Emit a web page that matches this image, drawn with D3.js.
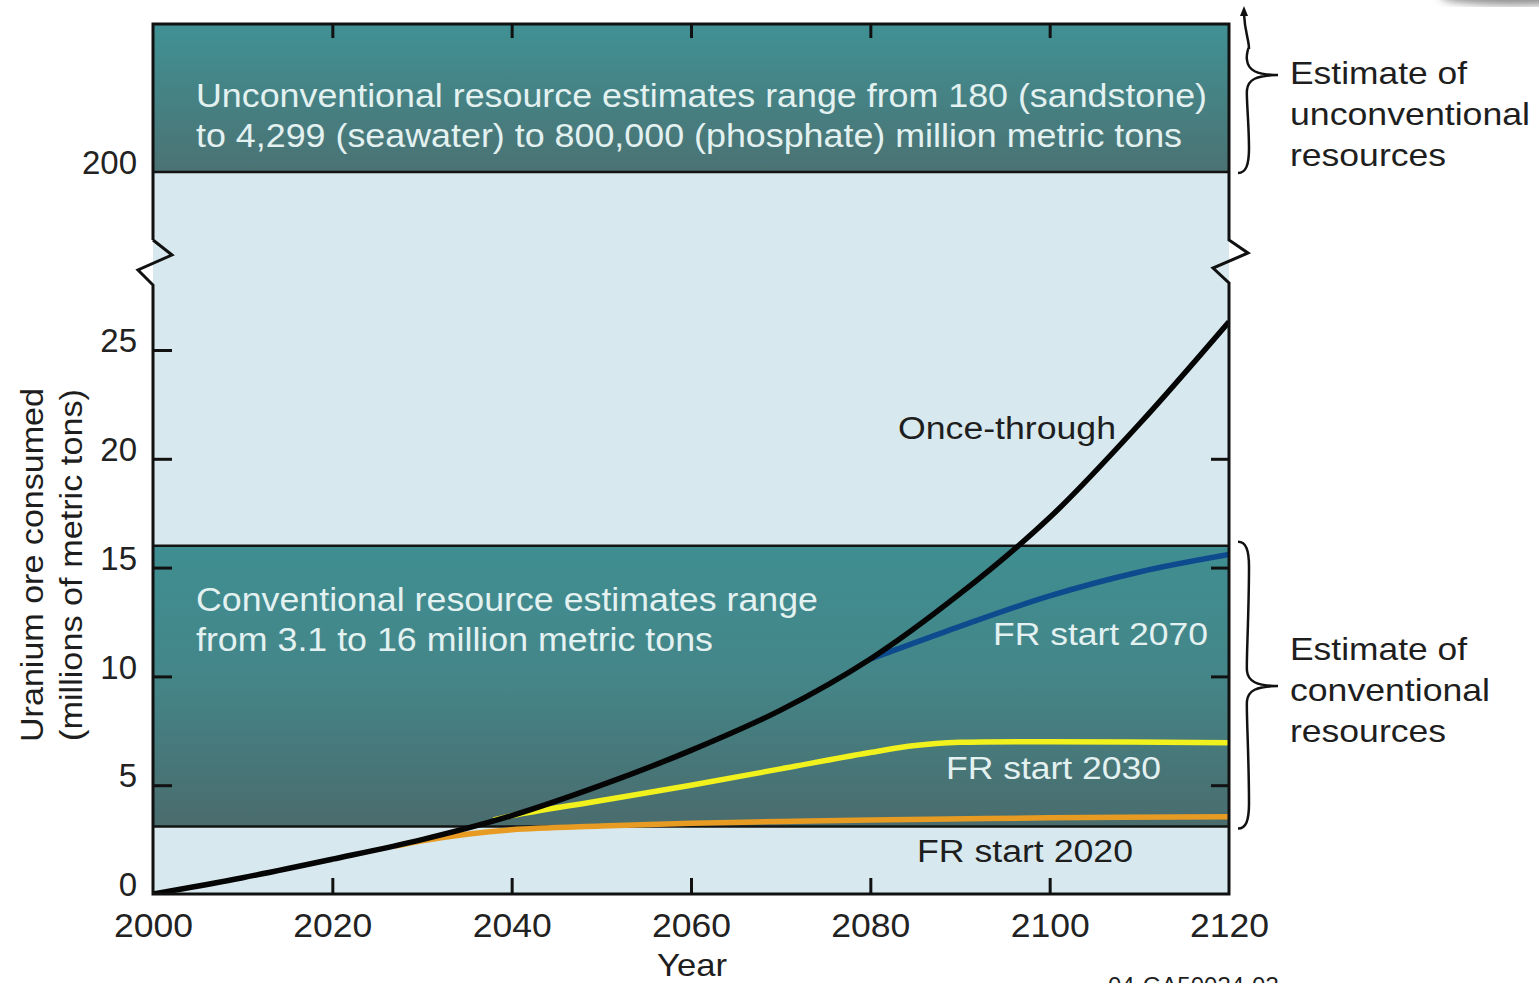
<!DOCTYPE html>
<html>
<head>
<meta charset="utf-8">
<script src="https://cdn.jsdelivr.net/npm/d3@7"></script>
<style>
  body { margin: 0; background: #fff; }
  svg { display: block; font-family: "Liberation Sans", Arial, sans-serif; }
  .tick line { stroke: #111; stroke-width: 3; }
</style>
</head>
<body>
<svg id="chart" width="1539" height="983"></svg>
<script>
// x axis / y axis tick values
var xTicks = [2000, 2020, 2040, 2060, 2080, 2100, 2120];
var yTicks = [0, 5, 10, 15, 20, 25];
var upperTicks = [200];

// resource bands (millions of metric tons)
var conventionalRange = [3.1, 16];
var unconventionalRange = [200, 240];

// consumption curves
var onceYears = [2000, 2010, 2020, 2030, 2040, 2050, 2060, 2070, 2080, 2090, 2100, 2110, 2120];
var onceThrough = [0, 0.75, 1.6, 2.5, 3.6, 5.0, 6.6, 8.45, 10.8, 13.8, 17.3, 21.6, 26.3];

var fr2020Years = [2027, 2030, 2035, 2040, 2050, 2060, 2070, 2080, 2100, 2120];
var fr2020 = [2.2, 2.45, 2.75, 2.95, 3.12, 3.25, 3.33, 3.4, 3.5, 3.55];

var fr2030Years = [2038, 2040, 2050, 2060, 2070, 2080, 2085, 2090, 2100, 2120];
var fr2030 = [3.4, 3.6, 4.3, 5.0, 5.75, 6.5, 6.82, 6.97, 7.0, 6.95];

var fr2070Years = [2080, 2083, 2090, 2100, 2110, 2120];
var fr2070 = [10.8, 11.25, 12.3, 13.7, 14.8, 15.6];

var svg = d3.select("#chart");
var margin = { top: 24, right: 310, bottom: 89, left: 153 };
var width = +svg.attr("width") - margin.left - margin.right;
var height = +svg.attr("height") - margin.top - margin.bottom;

var g = svg.append("g")
    .attr("transform", "translate(" + margin.left + "," + margin.top + ")");

var x = d3.scaleLinear().domain([2000, 2120]).range([0, width]);
var yLow = d3.scaleLinear().domain([0, 25]).range([height, 326]);
var yHigh = d3.scaleLinear().domain(unconventionalRange).range([148, 0]);

var defs = svg.append("defs");
var topGrad = defs.append("linearGradient").attr("id", "topGrad")
    .attr("x1", 0).attr("y1", 0).attr("x2", 0).attr("y2", 1);
topGrad.append("stop").attr("offset", "0%").attr("stop-color", "#409194");
topGrad.append("stop").attr("offset", "100%").attr("stop-color", "#4b7273");
var convGrad = defs.append("linearGradient").attr("id", "convGrad")
    .attr("x1", 0).attr("y1", 0).attr("x2", 0).attr("y2", 1);
convGrad.append("stop").attr("offset", "0%").attr("stop-color", "#3f8e91");
convGrad.append("stop").attr("offset", "45%").attr("stop-color", "#448689");
convGrad.append("stop").attr("offset", "100%").attr("stop-color", "#4a6c6d");
defs.append("clipPath").attr("id", "plotClip")
    .append("rect").attr("x", 0).attr("y", 0).attr("width", width).attr("height", height);
defs.append("filter").attr("id", "blur")
    .append("feGaussianBlur").attr("stdDeviation", 4);

// smudge top right
svg.append("ellipse").attr("cx", 1515).attr("cy", -4).attr("rx", 75).attr("ry", 9)
    .attr("fill", "#8c8c8c").attr("filter", "url(#blur)");

// backgrounds
g.append("rect").attr("x", 0).attr("width", width)
    .attr("y", yHigh(200)).attr("height", height - yHigh(200))
    .attr("fill", "#d7e9ee");
g.append("rect").attr("x", 0).attr("width", width)
    .attr("y", yHigh(unconventionalRange[1]))
    .attr("height", yHigh(unconventionalRange[0]) - yHigh(unconventionalRange[1]))
    .attr("fill", "url(#topGrad)");
g.append("rect").attr("x", 0).attr("width", width)
    .attr("y", yLow(conventionalRange[1]))
    .attr("height", yLow(conventionalRange[0]) - yLow(conventionalRange[1]))
    .attr("fill", "url(#convGrad)");

// band borders
[yHigh(200), yLow(conventionalRange[0]), yLow(conventionalRange[1])].forEach(function(yy) {
    g.append("line").attr("x1", 0).attr("x2", width).attr("y1", yy).attr("y2", yy)
        .attr("stroke", "#141414").attr("stroke-width", 2.5);
});

// ticks
var xAxis = g.append("g").attr("transform", "translate(0," + height + ")")
    .call(d3.axisBottom(x).tickValues(xTicks).tickFormat(d3.format("d"))
        .tickSizeInner(-16).tickSizeOuter(0).tickPadding(20));
var topAxis = g.append("g")
    .call(d3.axisTop(x).tickValues(xTicks.slice(1, -1)).tickFormat("")
        .tickSizeInner(-14).tickSizeOuter(0));
var yAxis = g.append("g")
    .call(d3.axisLeft(yLow).tickValues(yTicks).tickSizeInner(-19).tickSizeOuter(0).tickPadding(16));
var yAxisHigh = g.append("g")
    .call(d3.axisLeft(yHigh).tickValues(upperTicks).tickSizeInner(0).tickSizeOuter(0).tickPadding(16));
var rightAxis = g.append("g").attr("transform", "translate(" + width + ",0)")
    .call(d3.axisRight(yLow).tickValues([5, 10, 15, 20]).tickFormat("")
        .tickSizeInner(-18).tickSizeOuter(0));

g.selectAll(".domain").remove();
g.selectAll(".tick text")
    .attr("fill", "#222")
    .style("font-size", "33px")
    .style("font-family", "'Liberation Sans', Arial, sans-serif");
xAxis.selectAll(".tick text").attr("textLength", 79).attr("lengthAdjust", "spacingAndGlyphs");
xAxis.selectAll(".tick line").filter(function(d) { return d === 2000 || d === 2120; }).remove();
yAxis.selectAll(".tick text").attr("dy", "0.05em");
yAxis.selectAll(".tick line").filter(function(d) { return d === 0; }).remove();
yAxisHigh.selectAll(".tick text").attr("dy", "0.05em");

// curves
var line = d3.line()
    .x(function(d) { return x(d[0]); })
    .y(function(d) { return yLow(d[1]); })
    .curve(d3.curveCatmullRom.alpha(0.5));

var curves = g.append("g").attr("clip-path", "url(#plotClip)");
curves.append("path").datum(d3.zip(fr2020Years, fr2020))
    .attr("d", line).attr("fill", "none").attr("stroke", "#e79b22").attr("stroke-width", 5.5);
curves.append("path").datum(d3.zip(fr2030Years, fr2030))
    .attr("d", line).attr("fill", "none").attr("stroke", "#f1f21d").attr("stroke-width", 5.5);
curves.append("path").datum(d3.zip(fr2070Years, fr2070))
    .attr("d", line).attr("fill", "none").attr("stroke", "#0d4b8e").attr("stroke-width", 5.5);
curves.append("path").datum(d3.zip(onceYears, onceThrough))
    .attr("d", line).attr("fill", "none").attr("stroke", "#050505").attr("stroke-width", 5.5);

// frame with axis breaks
var frame = "M0,216 V0 H" + width + " V216 L" + (width + 19) + ",229 L" + (width - 16) + ",244 L" + width + ",259 V" + height +
    " H0 V261 L-15,246 L19,231 L0,216";
g.append("path").attr("d", frame).attr("fill", "none")
    .attr("stroke", "#111").attr("stroke-width", 3).attr("stroke-linejoin", "miter");

// text helper
function label(txt, xx, yy, size, color, len) {
    var t = g.append("text").attr("x", xx).attr("y", yy)
        .attr("fill", color).style("font-size", size + "px").text(txt);
    if (len) t.attr("textLength", len).attr("lengthAdjust", "spacingAndGlyphs");
    return t;
}
var light = "#e3f1f1";
var dark = "#1e1e1e";

label("Unconventional resource estimates range from 180 (sandstone)", 43, 83, 33, light, 1011);
label("to 4,299 (seawater) to 800,000 (phosphate) million metric tons", 43, 123, 33, light, 986);
label("Conventional resource estimates range", 43, 587, 33, light, 622);
label("from 3.1 to 16 million metric tons", 43, 627, 33, light, 517);
label("Once-through", 745, 415, 31, dark, 218);
label("FR start 2070", 840, 621, 31, light, 215);
label("FR start 2030", 793, 755, 31, light, 215);
label("FR start 2020", 764, 838, 31, dark, 216);

label("Estimate of", 1137, 60, 32, dark, 177);
label("unconventional", 1137, 101, 32, dark, 240);
label("resources", 1137, 142, 32, dark, 156);
label("Estimate of", 1137, 636, 32, dark, 177);
label("conventional", 1137, 677, 32, dark, 200);
label("resources", 1137, 718, 32, dark, 156);

label("Year", 504, 952, 32, dark, 70);
label("04-GA50034-03", 955, 970, 24, dark);

g.append("text").attr("transform", "translate(-110," + 541 + ") rotate(-90)")
    .attr("text-anchor", "middle").attr("fill", dark).style("font-size", "31px")
    .attr("textLength", 354).attr("lengthAdjust", "spacingAndGlyphs")
    .text("Uranium ore consumed");
g.append("text").attr("transform", "translate(-71," + 541 + ") rotate(-90)")
    .attr("text-anchor", "middle").attr("fill", dark).style("font-size", "31px")
    .attr("textLength", 352).attr("lengthAdjust", "spacingAndGlyphs")
    .text("(millions of metric tons)");

// braces
function brace(x0, y0, y1, ym, xt, arrowTop) {
    var start = arrowTop
        ? "M" + x0 + "," + y0 + " C" + (x0 + 1) + "," + (y0 + 20) + " " + (x0 + 5) + "," + (y0 + 25) + " " + (x0 + 5) + "," + (y0 + 35)
        : "M" + (x0 - 6) + "," + y0 + " C" + (x0 + 2) + "," + y0 + " " + (x0 + 5) + "," + (y0 + 8) + " " + (x0 + 5) + "," + (y0 + 25);
    return start +
        " C" + (x0 + 5) + "," + ((y0 + ym) / 2) + " " + (x0 + 2) + "," + (ym - 20) + " " + (x0 + 3) + "," + (ym - 15) +
        " C" + (x0 + 4) + "," + (ym - 5) + " " + (x0 + 12) + "," + ym + " " + xt + "," + ym +
        " C" + (x0 + 12) + "," + ym + " " + (x0 + 4) + "," + (ym + 5) + " " + (x0 + 3) + "," + (ym + 15) +
        " C" + (x0 + 2) + "," + (ym + 20) + " " + (x0 + 5) + "," + ((ym + y1) / 2) + " " + (x0 + 5) + "," + (y1 - 25) +
        " C" + (x0 + 5) + "," + (y1 - 8) + " " + (x0 + 2) + "," + y1 + " " + (x0 - 6) + "," + y1;
}
g.append("path").attr("d", brace(1091, -10, 149, 51, 1125, true))
    .attr("fill", "none").attr("stroke", "#111").attr("stroke-width", 2.5);
g.append("path").attr("d", "M1087,-8 L1091,-18 L1095,-8 Z").attr("fill", "#111");
g.append("path").attr("d", brace(1091, yLow(conventionalRange[1]) - 4, yLow(conventionalRange[0]) + 2, 662, 1125, false))
    .attr("fill", "none").attr("stroke", "#111").attr("stroke-width", 2.5);
</script>
</body>
</html>
